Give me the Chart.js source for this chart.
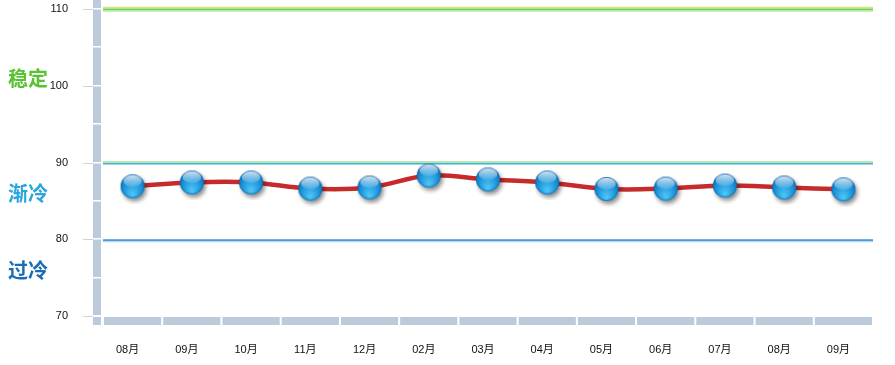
<!DOCTYPE html>
<html>
<head>
<meta charset="utf-8">
<script src="https://cdn.jsdelivr.net/npm/chart.js@4/dist/chart.umd.min.js"></script>
<style>
  html, body { margin: 0; padding: 0; background: #fff; }
  #wrap { width: 895px; height: 365px; }
</style>
</head>
<body>
<div id="wrap"><canvas id="chart" width="895" height="365"></canvas></div>
<script>
// chart data
const months = ['08月', '09月', '10月', '11月', '12月', '02月', '03月', '04月', '05月', '06月', '07月', '08月', '09月'];
const values = [86.9, 87.4, 87.4, 86.6, 86.75, 88.3, 87.8, 87.4, 86.55, 86.6, 87.0, 86.75, 86.5];
const yTicks = [70, 80, 90, 100, 110];
const zoneNames = ['稳定', '渐冷', '过冷'];
const zoneLabelAt = [101, 86, 76];
const zoneColors = ['#58c332', '#2aa5de', '#1a6cb5'];

// glossy blue ball used as point style
function makeBall() {
    const c = document.createElement('canvas');
    c.width = 36; c.height = 36;
    const g = c.getContext('2d');
    const cx = 18, cy = 18, r = 12;
    g.save();
    g.shadowColor = 'rgba(0,0,0,0.45)';
    g.shadowBlur = 4;
    g.shadowOffsetX = 2;
    g.shadowOffsetY = 3;
    const base = g.createRadialGradient(cx, cy + r * 0.7, 1, cx, cy, r * 1.3);
    base.addColorStop(0, '#4cc4f4');
    base.addColorStop(0.55, '#1a92d8');
    base.addColorStop(1, '#0b5fa6');
    g.fillStyle = base;
    g.beginPath();
    g.arc(cx, cy, r, 0, Math.PI * 2);
    g.fill();
    g.restore();
    // highlight on top half
    const hl = g.createLinearGradient(0, cy - r, 0, cy);
    hl.addColorStop(0, 'rgba(255,255,255,0.85)');
    hl.addColorStop(1, 'rgba(255,255,255,0.15)');
    g.fillStyle = hl;
    g.beginPath();
    g.ellipse(cx, cy - r * 0.45, r * 0.78, r * 0.5, 0, 0, Math.PI * 2);
    g.fill();
    // thin rim
    g.strokeStyle = 'rgba(10,90,160,0.6)';
    g.lineWidth = 0.8;
    g.beginPath();
    g.arc(cx, cy, r - 0.4, 0, Math.PI * 2);
    g.stroke();
    return c;
}
const ball = makeBall();

const BAND = '#bccbdc';

// axis bands, threshold lines and zone names
const decor = {
    id: 'decor',
    beforeDatasetsDraw(chart) {
        const ctx = chart.ctx;
        const area = chart.chartArea;
        const y = chart.scales.y;
        ctx.save();

        // left vertical band
        ctx.fillStyle = BAND;
        ctx.fillRect(area.left - 10, 0, 8, area.bottom);
        ctx.fillRect(area.left - 10, area.bottom + 1, 8, 8);
        ctx.fillStyle = '#fff';
        for (let v = 70; v <= 110; v += 5) {
            const py = Math.round(y.getPixelForValue(v));
            ctx.fillRect(area.left - 10, py - 1, 8, 1.5);
        }
        // tick marks
        ctx.strokeStyle = '#d2d2d2';
        ctx.lineWidth = 1;
        yTicks.forEach(v => {
            const py = Math.round(y.getPixelForValue(v)) + 0.5;
            ctx.beginPath();
            ctx.moveTo(area.left - 20, py);
            ctx.lineTo(area.left - 10, py);
            ctx.stroke();
        });

        // bottom segmented band
        ctx.fillStyle = BAND;
        const w = (area.right - area.left) / months.length;
        for (let i = 0; i < months.length; i++) {
            const x0 = area.left + i * w + 1;
            ctx.fillRect(x0, area.bottom + 1, w - 2, 8);
        }

        // threshold lines
        const L = area.left, R = area.right;
        function hline(py, color, width) {
            ctx.strokeStyle = color;
            ctx.lineWidth = width;
            ctx.beginPath();
            ctx.moveTo(L, py);
            ctx.lineTo(R, py);
            ctx.stroke();
        }
        const y110 = y.getPixelForValue(110);
        hline(y110 - 1.5, '#d6e38c', 1.5);
        hline(y110 + 0.5, '#6fd04c', 2);
        hline(y110 + 2, '#b8eba4', 1.5);
        const y90 = y.getPixelForValue(90);
        hline(y90 - 0.5, '#a2df8c', 1.5);
        hline(y90 + 1.3, '#3cb2e8', 1.5);
        const y80 = y.getPixelForValue(80);
        hline(y80 + 1, '#4a95dc', 2);
        hline(y80 + 2.5, '#b6d6f3', 1);

        // zone names
        ctx.font = 'bold 20px "Noto Sans CJK SC"';
        ctx.textAlign = 'left';
        ctx.textBaseline = 'middle';
        zoneNames.forEach((n, i) => {
            ctx.fillStyle = zoneColors[i];
            ctx.fillText(n, 8, y.getPixelForValue(zoneLabelAt[i]));
        });
        ctx.restore();
    }
};

const ctx = document.getElementById('chart').getContext('2d');
new Chart(ctx, {
    type: 'line',
    data: {
        labels: months,
        datasets: [{
            data: values,
            borderColor: '#c62a2a',
            borderWidth: 4.5,
            tension: 0.35,
            pointStyle: ball,
            pointRadius: 12,
            fill: false,
            clip: false
        }]
    },
    options: {
        responsive: false,
        animation: false,
        events: [],
        layout: { autoPadding: false, padding: { top: 9, right: 22, left: 0, bottom: 0 } },
        plugins: {
            legend: { display: false },
            tooltip: { enabled: false }
        },
        scales: {
            x: {
                offset: true,
                grid: { display: false, drawTicks: true, tickLength: 27 },
                border: { display: false },
                afterFit(scale) { scale.height = 49; },
                ticks: {
                    padding: 0,
                    labelOffset: -5,
                    maxRotation: 0,
                    autoSkip: false,
                    color: '#111',
                    font: { family: 'Arial, "Liberation Sans", "Noto Sans CJK SC"', size: 11 }
                }
            },
            y: {
                min: 70,
                max: 110,
                grid: { display: false, drawTicks: true, tickLength: 35 },
                border: { display: false },
                afterFit(scale) { scale.width = 103; },
                afterBuildTicks(scale) { scale.ticks = yTicks.map(v => ({ value: v })); },
                ticks: {
                    padding: 0,
                    color: '#111',
                    font: { family: 'Arial, "Liberation Sans"', size: 11 }
                }
            }
        }
    },
    plugins: [decor]
});
</script>
</body>
</html>
